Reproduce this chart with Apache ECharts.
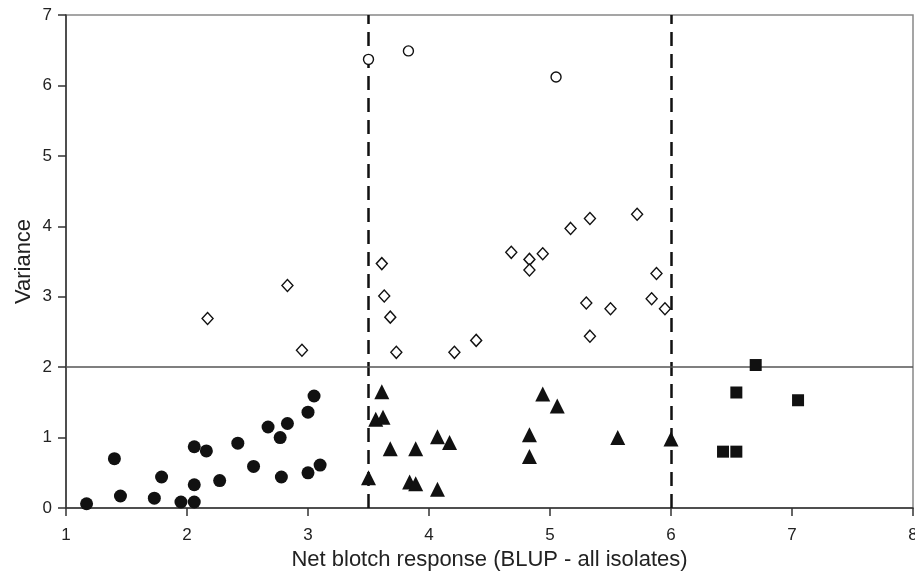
<!DOCTYPE html>
<html>
<head>
<meta charset="utf-8">
<script src="https://cdn.jsdelivr.net/npm/echarts@6/dist/echarts.min.js"></script>
<style>html,body{margin:0;padding:0;background:#fff;}#c{width:915px;height:574px;}</style>
</head>
<body>
<div id="c"></div>
<script>
// Data (x = Net blotch response BLUP, y = Variance)
var filledCircles = [
  [1.17,0.06],[1.40,0.70],[1.45,0.17],[1.73,0.14],[1.79,0.44],[1.95,0.085],[2.06,0.085],
  [2.06,0.33],[2.06,0.87],[2.16,0.81],[2.27,0.39],[2.42,0.92],[2.55,0.59],[2.67,1.15],
  [2.77,1.00],[2.83,1.20],[2.78,0.44],[3.00,1.36],[3.05,1.59],[3.00,0.50],[3.10,0.61]
];
var triangles = [
  [3.61,1.65],[3.56,1.26],[3.62,1.29],[3.68,0.84],[3.50,0.43],[3.84,0.37],[3.89,0.345],
  [3.89,0.84],[4.07,1.01],[4.17,0.93],[4.07,0.265],[4.83,1.04],[4.83,0.73],[4.94,1.62],
  [5.06,1.45],[5.56,1.00],[6.00,0.98]
];
var squares = [
  [6.70,2.03],[6.54,1.64],[7.05,1.53],[6.43,0.80],[6.54,0.80]
];
var diamonds = [
  [2.17,2.69],[2.83,3.16],[2.95,2.24],[3.61,3.47],[3.63,3.01],[3.68,2.71],[3.73,2.21],
  [4.21,2.21],[4.39,2.38],[4.68,3.63],[4.83,3.53],[4.83,3.38],[4.94,3.61],[5.17,3.97],
  [5.33,4.11],[5.72,4.17],[5.88,3.33],[5.84,2.97],[5.95,2.83],[5.30,2.91],[5.50,2.83],
  [5.33,2.44]
];
var openCircles = [
  [3.50,6.37],[3.83,6.49],[5.05,6.12]
];
var xThresholds = [3.5, 6.0];
var yThreshold = 2;
var xTicks = [1,2,3,4,5,6,7,8];
var yTicks = [0,1,2,3,4,5,6,7];

var font = '"Liberation Sans", Arial, Helvetica, sans-serif';
var chart = echarts.init(document.getElementById('c'));
chart.setOption({
  animation: false,
  backgroundColor: '#fff',
  grid: { left: 66, right: 2, top: 15, bottom: 66, outerBoundsMode: 'none', containLabel: false,
          show: true, borderColor: '#888', borderWidth: 1.5 },
  xAxis: {
    type: 'value', min: xTicks[0], max: xTicks[xTicks.length-1], interval: 1,
    name: 'Net blotch response (BLUP - all isolates)', nameLocation: 'middle', nameGap: 41,
    nameMoveOverlap: false,
    nameTextStyle: { fontFamily: font, fontSize: 22, color: '#222' },
    axisLine: { lineStyle: { color: '#333', width: 1.5 } },
    axisTick: { show: true, inside: false, length: 8, lineStyle: { color: '#333', width: 1.5 } },
    axisLabel: { fontFamily: font, fontSize: 17, color: '#222', margin: 19, hideOverlap: false },
    splitLine: { show: false }
  },
  yAxis: {
    type: 'value', min: yTicks[0], max: yTicks[yTicks.length-1], interval: 1,
    name: 'Variance', nameLocation: 'middle', nameGap: 31,
    nameMoveOverlap: false,
    nameTextStyle: { fontFamily: font, fontSize: 22, color: '#222' },
    axisLine: { lineStyle: { color: '#333', width: 1.5 } },
    axisTick: { show: true, inside: false, length: 8, lineStyle: { color: '#333', width: 1.5 } },
    axisLabel: { fontFamily: font, fontSize: 17, color: '#222', margin: 14, hideOverlap: false },
    splitLine: { show: false }
  },
  series: [
    {
      type: 'scatter', data: [], silent: true,
      markLine: {
        symbol: 'none', silent: true, label: { show: false },
        data: [
          { xAxis: xThresholds[0], lineStyle: { type: [14,8], color: '#111', width: 2.5, opacity: 1 } },
          { xAxis: xThresholds[1], lineStyle: { type: [14,8], color: '#111', width: 2.5, opacity: 1 } },
          { yAxis: yThreshold, lineStyle: { type: 'solid', color: '#555', width: 1.5, opacity: 1 } }
        ]
      }
    },
    { type: 'scatter', data: filledCircles, symbol: 'circle', symbolSize: 13, itemStyle: { color: '#111', opacity: 1 }, z: 5 },
    { type: 'scatter', data: triangles, symbol: 'triangle', symbolSize: 15, itemStyle: { color: '#111', opacity: 1 }, z: 5 },
    { type: 'scatter', data: squares, symbol: 'rect', symbolSize: 12, itemStyle: { color: '#111', opacity: 1 }, z: 5 },
    { type: 'scatter', data: diamonds, symbol: 'diamond', symbolSize: [11,12], itemStyle: { color: '#fff', borderColor: '#111', borderWidth: 1.4, opacity: 1 }, z: 5 },
    { type: 'scatter', data: openCircles, symbol: 'circle', symbolSize: 10, itemStyle: { color: '#fff', borderColor: '#111', borderWidth: 1.4, opacity: 1 }, z: 5 }
  ]
});
</script>
</body>
</html>
